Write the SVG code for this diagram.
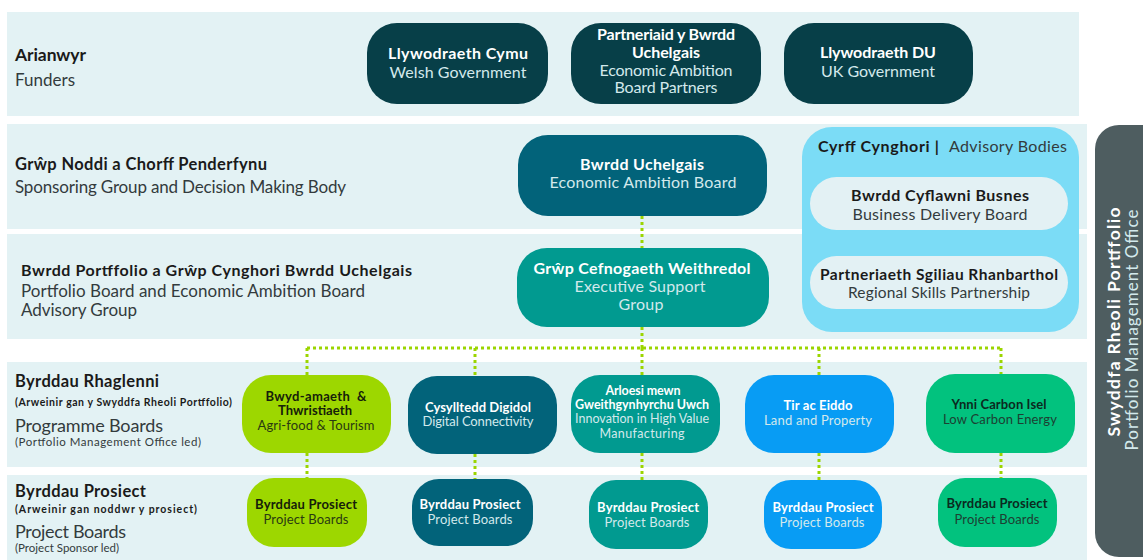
<svg xmlns="http://www.w3.org/2000/svg" width="1143" height="560" viewBox="0 0 1143 560">
<defs>
<style>
text{font-family:Lato,"Liberation Sans","DejaVu Sans",sans-serif;}
.band{fill:#E3F2F4;}
.b{font-weight:700;}
.r{font-weight:400;}
.lb{fill:#1A1A1A;font-weight:700;}
.lr{fill:#333B3D;font-weight:400;}
.mid{text-anchor:middle;}
.w{fill:#FFFFFF;}
.wl{fill:#D3E9EC;}
.dk{fill:#15200A;}
.dkl{fill:#2A3A12;}
.gdk{fill:#0B2A1E;}
.gdkl{fill:#1D4032;}
.fund{fill:#073F48;}
.eab{fill:#02637A;}
.teal{fill:#019A90;}
.lime{fill:#9DD700;}
.blue{fill:#089CF4;}
.green{fill:#02C27E;}
.pill{fill:#E3F1F4;}
.conn{fill:none;stroke:#9BD500;stroke-width:3;stroke-dasharray:3 3;}
</style>
</defs>
<rect width="1143" height="560" fill="#FFFFFF"/>

<g id="bands">
<rect class="band" x="7" y="12" width="1072" height="104"/>
<rect class="band" x="7" y="124" width="1080" height="105"/>
<rect class="band" x="7" y="234" width="1080" height="105"/>
<rect class="band" x="7" y="362" width="1080" height="105"/>
<rect class="band" x="7" y="475" width="1080" height="85"/>
</g>

<g id="row-labels">
<text class="lb" x="15" y="61" font-size="17.5" textLength="71">Arianwyr</text>
<text class="lr" x="15" y="86" font-size="17" textLength="60">Funders</text>
<text class="lb" x="15" y="170" font-size="16.5" textLength="252">Grŵp Noddi a Chorff Penderfynu</text>
<text class="lr" x="15" y="193" font-size="17" textLength="331">Sponsoring Group and Decision Making Body</text>
<text class="lb" x="21" y="276" font-size="16" textLength="391">Bwrdd Portffolio a Grŵp Cynghori Bwrdd Uchelgais</text>
<text class="lr" x="21" y="297" font-size="17" textLength="344">Portfolio Board and Economic Ambition Board</text>
<text class="lr" x="21" y="316" font-size="17" textLength="116">Advisory Group</text>
<text class="lb" x="15" y="387" font-size="16.5" textLength="144">Byrddau Rhaglenni</text>
<text class="lb" x="15" y="406" font-size="10.5" textLength="217">(Arweinir gan y Swyddfa Rheoli Portffolio)</text>
<text class="lr" x="15" y="432" font-size="18" textLength="148">Programme Boards</text>
<text class="lr" x="15" y="446" font-size="11.5" textLength="186">(Portfolio Management Office led)</text>
<text class="lb" x="15" y="497" font-size="16.5" textLength="131">Byrddau Prosiect</text>
<text class="lb" x="15" y="513" font-size="10.5" textLength="182">(Arweinir gan noddwr y prosiect)</text>
<text class="lr" x="15" y="538" font-size="18" textLength="111">Project Boards</text>
<text class="lr" x="15" y="552" font-size="11.5" textLength="104">(Project Sponsor led)</text>
</g>

<g id="connectors">
<line class="conn" x1="642" y1="216" x2="642" y2="249"/>
<line class="conn" x1="642" y1="327" x2="642" y2="348"/>
<line class="conn" x1="307" y1="348" x2="1001" y2="348"/>
<line class="conn" x1="307" y1="348" x2="307" y2="375"/>
<line class="conn" x1="475" y1="348" x2="475" y2="376"/>
<line class="conn" x1="642" y1="348" x2="642" y2="375"/>
<line class="conn" x1="819" y1="348" x2="819" y2="375"/>
<line class="conn" x1="1001" y1="348" x2="1001" y2="374"/>
<line class="conn" x1="307" y1="453" x2="307" y2="478"/>
<line class="conn" x1="475" y1="454" x2="475" y2="479"/>
<line class="conn" x1="642" y1="453" x2="642" y2="480"/>
<line class="conn" x1="819" y1="453" x2="819" y2="480"/>
<line class="conn" x1="1001" y1="453" x2="1001" y2="478"/>
</g>

<g id="welsh-government">
<rect class="fund" x="367" y="23" width="181" height="81" rx="30"/>
<text class="w b mid" x="458" y="59" font-size="16" textLength="140">Llywodraeth Cymu</text>
<text class="wl r mid" x="458" y="78" font-size="16" textLength="137">Welsh Government</text>
</g>
<g id="eab-partners">
<rect class="fund" x="571" y="23" width="190" height="81" rx="30"/>
<text class="w b mid" x="666" y="40" font-size="16" textLength="138">Partneriaid y Bwrdd</text>
<text class="w b mid" x="666" y="58" font-size="16" textLength="68">Uchelgais</text>
<text class="wl r mid" x="666" y="76" font-size="16" textLength="133">Economic Ambition</text>
<text class="wl r mid" x="666" y="93" font-size="16" textLength="103">Board Partners</text>
</g>
<g id="uk-government">
<rect class="fund" x="784" y="23" width="189" height="81" rx="30"/>
<text class="w b mid" x="878" y="58" font-size="16" textLength="116">Llywodraeth DU</text>
<text class="wl r mid" x="878" y="77" font-size="16" textLength="114">UK Government</text>
</g>

<g id="economic-ambition-board">
<rect class="eab" x="518" y="135" width="249" height="81" rx="30"/>
<text class="w b mid" x="642" y="170" font-size="16" textLength="124">Bwrdd Uchelgais</text>
<text class="wl r mid" x="643" y="188" font-size="16" textLength="187">Economic Ambition Board</text>
</g>

<g id="advisory-bodies">
<rect fill="#7BDCF6" x="802" y="127" width="277" height="205" rx="30"/>
<text class="lb" x="818" y="152" font-size="16" textLength="121">Cyrff Cynghori |</text>
<text class="lr" x="949" y="152" font-size="16" textLength="118">Advisory Bodies</text>
</g>
<g id="business-delivery-board">
<rect class="pill" x="810" y="177" width="258" height="53" rx="26.5"/>
<text class="lb mid" x="940" y="201" font-size="16" textLength="178">Bwrdd Cyflawni Busnes</text>
<text class="lr mid" x="940" y="220" font-size="16" textLength="175">Business Delivery Board</text>
</g>
<g id="regional-skills-partnership">
<rect class="pill" x="810" y="256" width="258" height="53" rx="26.5"/>
<text class="lb mid" x="939" y="280" font-size="15.5" textLength="238">Partneriaeth Sgiliau Rhanbarthol</text>
<text class="lr mid" x="939" y="298" font-size="15.5" textLength="182">Regional Skills Partnership</text>
</g>

<g id="executive-support-group">
<rect class="teal" x="517" y="248" width="252" height="79" rx="30"/>
<text class="w b mid" x="642" y="274" font-size="16" textLength="217">Grŵp Cefnogaeth Weithredol</text>
<text class="wl r mid" x="640" y="292" font-size="16" textLength="131">Executive Support</text>
<text class="wl r mid" x="641" y="310" font-size="16" textLength="45">Group</text>
</g>

<g id="agri-food-tourism">
<rect class="lime" x="242" y="375" width="149" height="78" rx="29"/>
<text class="dk b mid" x="316" y="401" font-size="13" textLength="101" style="white-space:pre">Bwyd-amaeth  &amp;</text>
<text class="dk b mid" x="315" y="415" font-size="13" textLength="74">Thwristiaeth</text>
<text class="dkl r mid" x="316" y="430" font-size="13" textLength="117">Agri-food &amp; Tourism</text>
</g>
<g id="digital-connectivity">
<rect class="eab" x="408" y="376" width="149" height="78" rx="29"/>
<text class="w b mid" x="478" y="412" font-size="13" textLength="106">Cysylltedd Digidol</text>
<text class="wl r mid" x="478" y="426" font-size="13" textLength="111">Digital Connectivity</text>
</g>
<g id="high-value-manufacturing">
<rect class="teal" x="571" y="375" width="149" height="78" rx="29"/>
<text class="w b mid" x="643" y="395" font-size="12.5" textLength="75">Arloesi mewn</text>
<text class="w b mid" x="642" y="409" font-size="12.5" textLength="134">Gweithgynhyrchu Uwch</text>
<text class="wl r mid" x="642" y="423" font-size="12.5" textLength="134">Innovation in High Value</text>
<text class="wl r mid" x="642" y="438" font-size="12.5" textLength="85">Manufacturing</text>
</g>
<g id="land-property">
<rect class="blue" x="745" y="375" width="149" height="78" rx="29"/>
<text class="w b mid" x="818" y="410" font-size="13" textLength="69">Tir ac Eiddo</text>
<text class="wl r mid" x="818" y="425" font-size="13" textLength="108">Land and Property</text>
</g>
<g id="low-carbon-energy">
<rect class="green" x="926" y="374" width="149" height="79" rx="29"/>
<text class="gdk b mid" x="999" y="409" font-size="13" textLength="95">Ynni Carbon Isel</text>
<text class="gdkl r mid" x="1000" y="424" font-size="13" textLength="114">Low Carbon Energy</text>
</g>

<g id="project-boards-agri">
<rect class="lime" x="247" y="478" width="120" height="69" rx="27"/>
<text class="dk b mid" x="306" y="509" font-size="13" textLength="102">Byrddau Prosiect</text>
<text class="dkl r mid" x="306" y="524" font-size="13" textLength="85">Project Boards</text>
</g>
<g id="project-boards-digital">
<rect class="eab" x="412" y="479" width="121" height="67" rx="27"/>
<text class="w b mid" x="470" y="509" font-size="13" textLength="101">Byrddau Prosiect</text>
<text class="wl r mid" x="470" y="524" font-size="13" textLength="85">Project Boards</text>
</g>
<g id="project-boards-manufacturing">
<rect class="teal" x="589" y="480" width="119" height="69" rx="27"/>
<text class="w b mid" x="648" y="512" font-size="13" textLength="102">Byrddau Prosiect</text>
<text class="wl r mid" x="647" y="527" font-size="13" textLength="85">Project Boards</text>
</g>
<g id="project-boards-land">
<rect class="blue" x="764" y="480" width="118" height="69" rx="27"/>
<text class="w b mid" x="823" y="512" font-size="13" textLength="101">Byrddau Prosiect</text>
<text class="wl r mid" x="822" y="527" font-size="13" textLength="85">Project Boards</text>
</g>
<g id="project-boards-low-carbon">
<rect class="green" x="938" y="478" width="119" height="69" rx="27"/>
<text class="gdk b mid" x="997" y="508" font-size="13" textLength="101">Byrddau Prosiect</text>
<text class="gdkl r mid" x="997" y="524" font-size="13" textLength="85">Project Boards</text>
</g>

<g id="portfolio-management-office">
<rect fill="#4E5D60" x="1095" y="125" width="75" height="432" rx="24"/>
<text class="w b mid" transform="translate(1120,322) rotate(-90)" font-size="17.5" textLength="229">Swyddfa Rheoli Portffolio</text>
<text class="wl r mid" transform="translate(1138,330) rotate(-90)" font-size="17" textLength="241">Portfolio Management Office</text>
</g>
</svg>
